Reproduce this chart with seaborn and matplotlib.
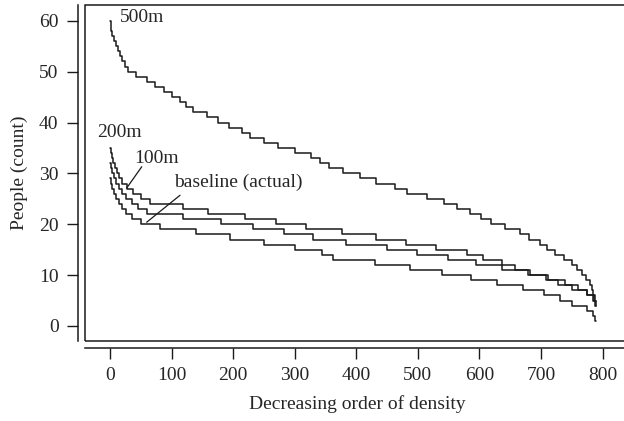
import numpy as np
import pandas as pd
import matplotlib
matplotlib.use("Agg")
import matplotlib.pyplot as plt
import seaborn as sns
from matplotlib.patches import Rectangle

# rank positions where each curve drops by one person
n_cells = 790

top_500 = 60
drops_500 = [1, 2, 4, 6, 10, 13, 16, 19, 25, 30, 43, 60, 73, 87, 100, 114, 124,
             134, 157, 176, 194, 215, 228, 250, 273, 300, 327, 341, 356, 379, 406,
             432, 462, 483, 514, 542, 563, 585, 603, 618, 642, 665, 680, 698, 710,
             723, 737, 750, 758, 766, 773, 779, 782, 785, 787, 789]

top_200 = 35
drops_200 = [1, 3, 5, 8, 11, 15, 20, 28, 38, 51, 65, 119, 159, 219, 270, 319, 376,
             432, 481, 530, 579, 606, 636, 658, 682, 712, 739, 760, 774, 785, 788]

top_100 = 32
drops_100 = [2, 4, 7, 10, 14, 19, 26, 35, 45, 60, 119, 180, 232, 282, 330, 384,
             450, 499, 549, 595, 636, 678, 708, 727, 750, 774, 786]

top_base = 29
drops_base = [2, 4, 7, 10, 14, 19, 26, 36, 50, 81, 140, 195, 250, 300, 345, 362,
              430, 487, 539, 587, 628, 671, 704, 731, 750, 774, 785, 788]

curves = {"500m": (top_500, drops_500), "200m": (top_200, drops_200),
          "100m": (top_100, drops_100), "baseline (actual)": (top_base, drops_base)}

rows = []
for name, (top, drops) in curves.items():
    xs = [0] + drops + [n_cells]
    ys = [top - i for i in range(len(drops) + 1)]
    ys = ys + [ys[-1]]
    for x, y in zip(xs, ys):
        rows.append({"rank": x, "people": y, "scenario": name})
df = pd.DataFrame(rows)

sns.set_style("white")
plt.rcParams["font.family"] = ["Liberation Serif", "DejaVu Serif"]

fig = plt.figure(figsize=(6.24, 4.21), dpi=100)
# right side of the box runs off the figure, like in the original
ax = fig.add_axes([85 / 624, 1 - 341 / 421, 545 / 624, 336 / 421])

sns.lineplot(data=df, x="rank", y="people", units="scenario", estimator=None,
             drawstyle="steps-post", color="#1a1a1a", lw=1.1, ax=ax, legend=False)

ax.set_xlim(-40.6, 844.4)
ax.set_ylim(-2.95, 63.1)

# R style: box around the panel, separate axes a little outside it
for s in ["top", "right"]:
    ax.spines[s].set_visible(False)
for s in ["left", "bottom"]:
    ax.spines[s].set_position(("outward", 5))
    ax.spines[s].set_linewidth(1.1)
    ax.spines[s].set_color("#1a1a1a")
ax.add_patch(Rectangle((0, 0), 1, 1, transform=ax.transAxes, fill=False,
                       lw=1.1, ec="#1a1a1a", clip_on=False))

ax.set_xticks(range(0, 801, 100))
ax.set_yticks(range(0, 61, 10))
ax.tick_params(direction="out", length=8, width=1, color="#1a1a1a",
               labelsize=14, pad=6, bottom=True, left=True)

ax.set_xlabel("Decreasing order of density", fontsize=14, labelpad=8)
ax.set_ylabel("People (count)", fontsize=14, labelpad=8)

# labels on the curves
ax.text(16, 60.7, "500m", fontsize=14, ha="left", va="center")
ax.text(-21, 38.1, "200m", fontsize=14, ha="left", va="center")
ax.text(76, 33, "100m", fontsize=14, ha="center", va="center")
ax.text(104, 28.3, "baseline (actual)", fontsize=14, ha="left", va="center")
ax.plot([51.5, 27], [31.3, 27.1], color="#1a1a1a", lw=0.9)
ax.plot([113.7, 59.6], [25.7, 20.4], color="#1a1a1a", lw=0.9)

fig.savefig("out.png", dpi=100)
